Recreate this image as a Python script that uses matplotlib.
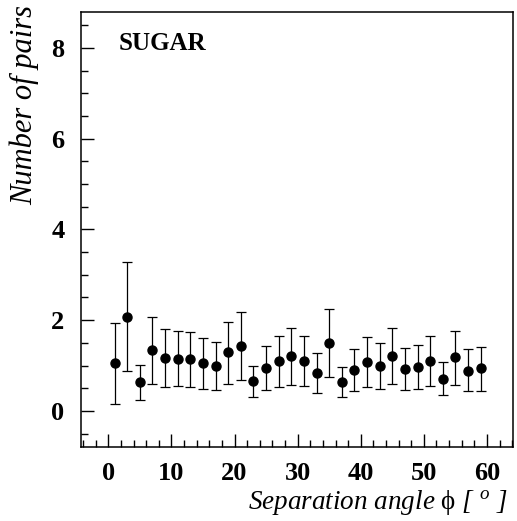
import matplotlib
matplotlib.use("Agg")
import matplotlib.pyplot as plt
import numpy as np

# separation angle bin centres (degrees)
angle = [1, 3, 5, 7, 9, 11, 13, 15, 17, 19, 21, 23, 25, 27, 29,
         31, 33, 35, 37, 39, 41, 43, 45, 47, 49, 51, 53, 55, 57, 59]
# number of pairs
pairs = [1.05, 2.08, 0.63, 1.34, 1.16, 1.15, 1.14, 1.05, 1.00, 1.29,
         1.42, 0.65, 0.94, 1.09, 1.21, 1.10, 0.84, 1.49, 0.64, 0.91,
         1.08, 0.99, 1.21, 0.93, 0.96, 1.10, 0.71, 1.18, 0.89, 0.94]
upper = [1.94, 3.29, 1.02, 2.08, 1.80, 1.77, 1.74, 1.61, 1.52, 1.97,
         2.17, 0.99, 1.44, 1.64, 1.82, 1.66, 1.27, 2.24, 0.97, 1.37,
         1.63, 1.49, 1.83, 1.39, 1.45, 1.66, 1.07, 1.77, 1.36, 1.41]
lower = [0.15, 0.88, 0.23, 0.60, 0.53, 0.54, 0.52, 0.49, 0.47, 0.60,
         0.67, 0.31, 0.45, 0.52, 0.58, 0.54, 0.40, 0.74, 0.31, 0.44,
         0.53, 0.48, 0.60, 0.45, 0.48, 0.55, 0.35, 0.57, 0.43, 0.44]

plt.rcParams['mathtext.fontset'] = 'custom'
plt.rcParams['mathtext.rm'] = 'Liberation Serif'
plt.rcParams['mathtext.it'] = 'Liberation Serif:italic'

y = np.array(pairs)
yerr = [y - np.array(lower), np.array(upper) - y]

fig = plt.figure(figsize=(5.17, 5.21), dpi=100)
ax = fig.add_axes([0.157, 0.1426, 0.835, 0.834])

ax.errorbar(angle, pairs, yerr=yerr, fmt='o', color='black', ms=6.5,
            ecolor='black', elinewidth=0.9, capsize=3.5, capthick=0.9)

ax.set_xlim(-4.3, 64.1)
ax.set_ylim(-0.79, 8.79)
ax.set_xticks(np.arange(0, 61, 10))
ax.set_xticks(np.arange(-4, 65, 2), minor=True)
ax.set_yticks(np.arange(0, 9, 2))
ax.set_yticks(np.arange(-0.5, 8.8, 0.5), minor=True)
ax.tick_params(which='both', direction='in', top=False, right=False,
               width=1.0)
ax.tick_params(which='major', length=9.5)
ax.tick_params(axis='x', which='major', pad=11)
ax.tick_params(axis='y', which='major', pad=12)
ax.tick_params(which='minor', length=5)
for lab in ax.get_xticklabels() + ax.get_yticklabels():
    lab.set_fontfamily('Liberation Serif')
    lab.set_fontweight('bold')
    lab.set_fontsize(19)
for sp in ax.spines.values():
    sp.set_linewidth(1.1)

ax.text(0.086, 0.955, 'SUGAR', transform=ax.transAxes, ha='left', va='top',
        fontfamily='Liberation Serif', fontweight='bold', fontsize=18)

fig.text(0.983, 0.008, r'Separation angle $\mathrm{\phi}$ [ $^{\mathit{o}}$ ]',
         ha='right', va='bottom', fontfamily='Liberation Serif',
         style='italic', fontsize=19.5)
fig.text(0.047, 0.99, 'Number of pairs', rotation=90, ha='center',
         va='top', fontfamily='Liberation Serif', style='italic',
         fontsize=22)

fig.savefig('out.png', dpi=100)
